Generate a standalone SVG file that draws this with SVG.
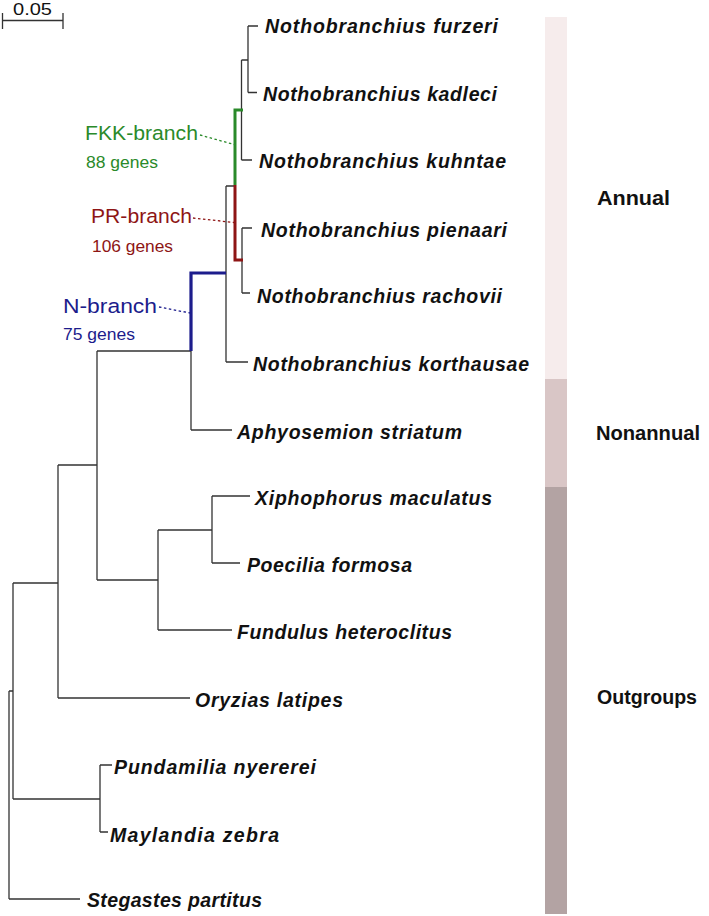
<svg xmlns="http://www.w3.org/2000/svg" width="709" height="916" viewBox="0 0 709 916">
<style>
.tx{font-family:"Liberation Sans",Arial,sans-serif;font-weight:bold;font-style:italic;font-size:19.5px;fill:#111}
.cat{font-family:"Liberation Sans",Arial,sans-serif;font-weight:bold;font-size:20px;fill:#111}
.br{font-family:"Liberation Sans",Arial,sans-serif;font-size:20.5px}
.gn{font-family:"Liberation Sans",Arial,sans-serif;font-size:17px}
.e{fill:none;stroke:#333;stroke-width:1.3}
.g{fill:none;stroke:#2a8a2a;stroke-width:3}
.r{fill:none;stroke:#8e1515;stroke-width:3}
.b{fill:none;stroke:#1c1c8c;stroke-width:3.2}
.dot{fill:none;stroke-width:1.3;stroke-dasharray:2.5 2.5}
</style>
<g id="scale-bar">
<path class="e" d="M2.5 20.5H63M2.5 13V29M63 13V29"/>
<text x="13" y="15" font-family="Liberation Sans,Arial,sans-serif" font-size="17" fill="#111" textLength="39" lengthAdjust="spacingAndGlyphs">0.05</text>
</g>
<g id="category-bars">
<g id="bar-annual"><rect x="545" y="17" width="22" height="362" fill="#f6ecec"/><text class="cat" x="597" y="205" textLength="73" lengthAdjust="spacingAndGlyphs">Annual</text></g>
<g id="bar-nonannual"><rect x="545" y="379" width="22" height="108" fill="#d9c6c6"/><text class="cat" x="596" y="440" textLength="104" lengthAdjust="spacingAndGlyphs">Nonannual</text></g>
<g id="bar-outgroups"><rect x="545" y="487" width="22" height="427" fill="#b3a3a3"/><text class="cat" x="597" y="704" textLength="100" lengthAdjust="spacingAndGlyphs">Outgroups</text></g>
</g>
<g id="connectors">
<path class="e" d="M248 26H258M248 26V92.5M248 92.5H257M241.5 60H248M241.5 60V160M241.5 160H252"/>
<path class="e" d="M242 228H252M242 228V293M242 293H250"/>
<path class="e" d="M226 186H235M226 186V362M226 362H248"/>
<path class="e" d="M191 351V430M191 430H232"/>
<path class="e" d="M97 351H191M97 351V580"/>
<path class="e" d="M212 496H250M212 496V563M212 563H240M158 530H212M158 530V630M158 630H232M97 580H158"/>
<path class="e" d="M58 465H97M58 465V698M58 698H190"/>
<path class="e" d="M13 583H58M13 583V799M13 799H100M100 765H112M100 765V832M100 832H108"/>
<path class="e" d="M9 691H13M9 691V899M9 899H80"/>
<path class="g" d="M243 110H235V185"/>
<path class="r" d="M235 185V260H243"/>
<path class="b" d="M226 273H191V351"/>
<path class="dot" stroke="#2a8a2a" d="M200 135L234 144.5"/>
<path class="dot" stroke="#8e1515" d="M193 218L234 222.5"/>
<path class="dot" stroke="#1c1c8c" d="M159 307L190 313"/>
</g>
<g id="label-fkk" fill="#2a8a2a"><text class="br" x="85" y="140" textLength="113" lengthAdjust="spacingAndGlyphs">FKK-branch</text><text class="gn" x="86" y="168" textLength="72" lengthAdjust="spacingAndGlyphs">88 genes</text></g>
<g id="label-pr" fill="#8e1515"><text class="br" x="91" y="223" textLength="101" lengthAdjust="spacingAndGlyphs">PR-branch</text><text class="gn" x="92" y="252" textLength="81" lengthAdjust="spacingAndGlyphs">106 genes</text></g>
<g id="label-n" fill="#1c1c8c"><text class="br" x="63" y="313" textLength="94" lengthAdjust="spacingAndGlyphs">N-branch</text><text class="gn" x="63" y="340" textLength="72" lengthAdjust="spacingAndGlyphs">75 genes</text></g>
<g id="tip-furzeri"><text class="tx" x="265" y="33" textLength="233" lengthAdjust="spacing">Nothobranchius  furzeri</text></g>
<g id="tip-kadleci"><text class="tx" x="263" y="101" textLength="234" lengthAdjust="spacing">Nothobranchius  kadleci</text></g>
<g id="tip-kuhntae"><text class="tx" x="259" y="168" textLength="247" lengthAdjust="spacing">Nothobranchius  kuhntae</text></g>
<g id="tip-pienaari"><text class="tx" x="261" y="237" textLength="246" lengthAdjust="spacing">Nothobranchius  pienaari</text></g>
<g id="tip-rachovii"><text class="tx" x="257" y="303" textLength="245" lengthAdjust="spacing">Nothobranchius  rachovii</text></g>
<g id="tip-korthausae"><text class="tx" x="253" y="371" textLength="276" lengthAdjust="spacing">Nothobranchius  korthausae</text></g>
<g id="tip-aphyosemion"><text class="tx" x="237" y="439" textLength="225" lengthAdjust="spacing">Aphyosemion  striatum</text></g>
<g id="tip-xiphophorus"><text class="tx" x="255" y="505" textLength="237" lengthAdjust="spacing">Xiphophorus  maculatus</text></g>
<g id="tip-poecilia"><text class="tx" x="247" y="572" textLength="165" lengthAdjust="spacing">Poecilia  formosa</text></g>
<g id="tip-fundulus"><text class="tx" x="237" y="639" textLength="215" lengthAdjust="spacing">Fundulus  heteroclitus</text></g>
<g id="tip-oryzias"><text class="tx" x="195" y="707" textLength="148" lengthAdjust="spacing">Oryzias  latipes</text></g>
<g id="tip-pundamilia"><text class="tx" x="114" y="774" textLength="202" lengthAdjust="spacing">Pundamilia  nyererei</text></g>
<g id="tip-maylandia"><text class="tx" x="110" y="842" textLength="169" lengthAdjust="spacing">Maylandia  zebra</text></g>
<g id="tip-stegastes"><text class="tx" x="87" y="907" textLength="175" lengthAdjust="spacing">Stegastes  partitus</text></g>
</svg>
